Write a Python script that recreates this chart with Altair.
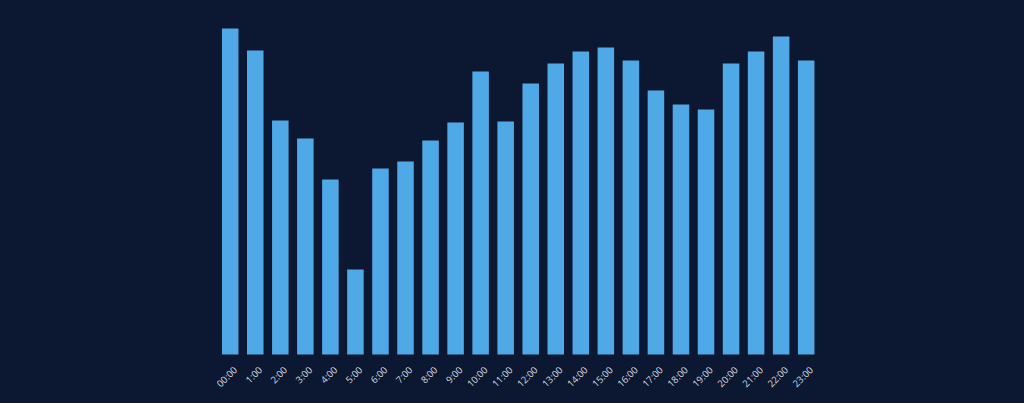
import altair as alt
import pandas as pd

hours = ["00:00", "1:00", "2:00", "3:00", "4:00", "5:00", "6:00", "7:00",
         "8:00", "9:00", "10:00", "11:00", "12:00", "13:00", "14:00", "15:00",
         "16:00", "17:00", "18:00", "19:00", "20:00", "21:00", "22:00", "23:00"]
values = [326, 304, 234, 216, 175, 85, 186, 193,
          214, 232, 283, 233, 271, 291, 303, 307,
          294, 264, 250, 245, 291, 303, 318, 294]

df = pd.DataFrame({"hour": hours, "value": values})

BG = "#0c1731"
BAR = "#4fa9e7"

chart = alt.Chart(df).mark_bar(color=BAR).encode(
    x=alt.X("hour:N", sort=hours,
            scale=alt.Scale(paddingInner=0.34, paddingOuter=0.17),
            axis=alt.Axis(title=None, labelAngle=-45, labelColor="#d5d9e0",
                          labelFont="Open Sans", labelFontSize=9.5, labelPadding=10,
                          labelOffset=2,
                          domain=False, ticks=False, grid=False)),
    y=alt.Y("value:Q", scale=alt.Scale(domain=[0, 326.5], nice=False),
            axis=None),
).properties(
    width=601, height=326.5,
    background=BG,
    autosize=alt.AutoSizeParams(type="none"),
    padding={"left": 217.7, "top": 28, "right": 205.3, "bottom": 48.5},
).configure_view(stroke=None)

chart.save("out.html", embed_options={"renderer": "svg", "actions": False})
